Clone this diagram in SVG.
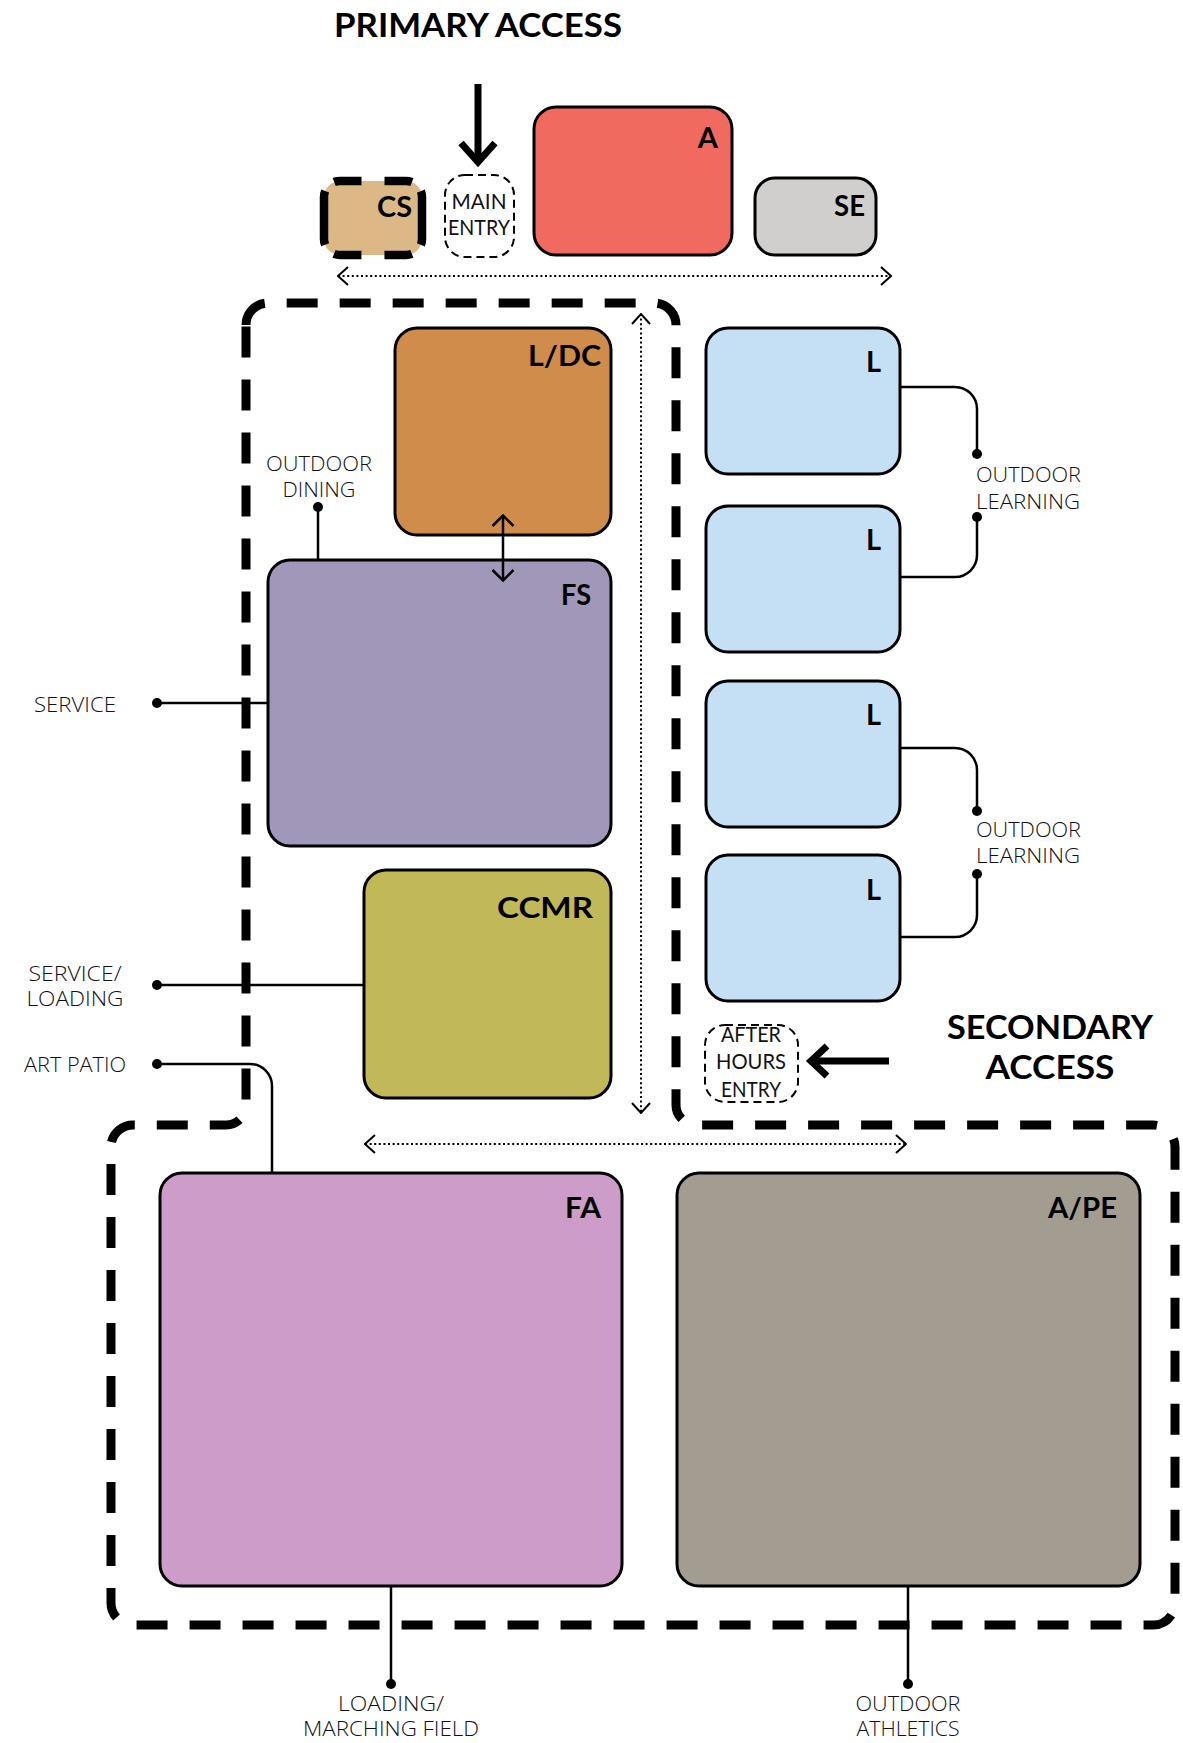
<svg xmlns="http://www.w3.org/2000/svg" width="1183" height="1743" viewBox="0 0 1183 1743">
<defs>
<style>
.box{stroke:#000;stroke-width:3}
.lbl{font-family:Lato,"Liberation Sans",sans-serif;font-weight:700;font-size:29px;fill:#000;text-anchor:end}
.head{font-family:Lato,"Liberation Sans",sans-serif;font-weight:700;font-size:31.5px;fill:#000;text-anchor:middle}
.sm{font-family:"Open Sans","Liberation Sans",sans-serif;font-weight:300;font-size:20px;fill:#111;text-anchor:middle}
.smL{font-family:"Open Sans","Liberation Sans",sans-serif;font-weight:300;font-size:20px;fill:#111;text-anchor:start}
.ent{font-family:Lato,"Liberation Sans",sans-serif;font-weight:400;font-size:21px;fill:#111;text-anchor:middle}
.ln{fill:none;stroke:#000;stroke-width:2.5}
.dot{fill:#000}
.dotted{fill:none;stroke:#000;stroke-width:2;stroke-dasharray:2 2.6}
.thick{fill:none;stroke:#000;stroke-width:7}
.thin-dash{fill:#fff;stroke:#000;stroke-width:2;stroke-dasharray:8 5}
</style>
<marker id="open" viewBox="0 0 12 20" refX="11" refY="10" markerWidth="12" markerHeight="20" orient="auto-start-reverse" markerUnits="userSpaceOnUse">
<path d="M1,1 L11,10 L1,19" fill="none" stroke="#000" stroke-width="2"/>
</marker>
<marker id="solid" viewBox="0 0 14 24" refX="12.5" refY="12" markerWidth="14" markerHeight="24" orient="auto-start-reverse" markerUnits="userSpaceOnUse">
<path d="M1.5,1.5 L12,12 L1.5,22.5" fill="none" stroke="#000" stroke-width="2.5"/>
</marker>
</defs>
<rect width="1183" height="1743" fill="#fff"/>

<g id="boundary">
<path d="M246,325 A22,22 0 0 1 268,303 H654 A22,22 0 0 1 676,325 V1105 A20,20 0 0 0 696,1125 H1153 A22,22 0 0 1 1175,1147 V1603 A22,22 0 0 1 1153,1625 H133 A22,22 0 0 1 111,1603 V1147 A22,22 0 0 1 133,1125 H226 A20,20 0 0 0 246,1105 Z" fill="none" stroke="#000" stroke-width="9" stroke-dasharray="31 22"/>
</g>

<g id="titles">
<text class="head" x="478" y="36.5" textLength="288" lengthAdjust="spacingAndGlyphs">PRIMARY ACCESS</text>
<text class="head" x="1050" y="1039" textLength="206" lengthAdjust="spacingAndGlyphs">SECONDARY</text>
<text class="head" x="1050" y="1079" textLength="129" lengthAdjust="spacingAndGlyphs">ACCESS</text>
</g>

<g id="node-CS">
<rect x="324" y="181" width="98" height="74" rx="16" fill="#DDB887"/>
<rect x="324" y="181" width="98" height="74" rx="16" fill="none" stroke="#000" stroke-width="8.5" stroke-dasharray="21.5 23 27.5 13 54 13 27.5 23 27.5 13 54 13 6"/>
<text class="lbl" x="412" y="217" textLength="35" lengthAdjust="spacingAndGlyphs">CS</text>
</g>
<g id="node-main-entry">
<rect class="thin-dash" x="445" y="175" width="69" height="82" rx="20"/>
<text class="ent" x="479" y="209" textLength="55" lengthAdjust="spacingAndGlyphs">MAIN</text>
<text class="ent" x="479" y="235" textLength="62" lengthAdjust="spacingAndGlyphs">ENTRY</text>
</g>
<g id="node-A">
<rect class="box" x="534" y="107" width="198" height="148" rx="22" fill="#F16A60"/>
<text class="lbl" x="718" y="148">A</text>
</g>
<g id="node-SE">
<rect class="box" x="755" y="178" width="121" height="77" rx="20" fill="#D0CFCD"/>
<text class="lbl" x="865" y="216" textLength="31" lengthAdjust="spacingAndGlyphs">SE</text>
</g>
<g id="node-LDC">
<rect class="box" x="395" y="328" width="216" height="207" rx="22" fill="#D08C4A"/>
<text class="lbl" x="601" y="366" textLength="73" lengthAdjust="spacingAndGlyphs">L/DC</text>
</g>
<g id="node-FS">
<rect class="box" x="268" y="560" width="343" height="286" rx="22" fill="#A097B9"/>
<text class="lbl" x="591" y="605" textLength="30" lengthAdjust="spacingAndGlyphs">FS</text>
</g>
<g id="node-CCMR">
<rect class="box" x="364" y="870" width="247" height="228" rx="22" fill="#C1B857"/>
<text class="lbl" x="593" y="918" textLength="96" lengthAdjust="spacingAndGlyphs">CCMR</text>
</g>
<g id="node-L1">
<rect class="box" x="706" y="328" width="194" height="146" rx="22" fill="#C5E0F5"/>
<text class="lbl" x="881" y="372">L</text>
</g>
<g id="node-L2">
<rect class="box" x="706" y="506" width="194" height="146" rx="22" fill="#C5E0F5"/>
<text class="lbl" x="881" y="550">L</text>
</g>
<g id="node-L3">
<rect class="box" x="706" y="681" width="194" height="146" rx="22" fill="#C5E0F5"/>
<text class="lbl" x="881" y="725">L</text>
</g>
<g id="node-L4">
<rect class="box" x="706" y="855" width="194" height="146" rx="22" fill="#C5E0F5"/>
<text class="lbl" x="881" y="900">L</text>
</g>
<g id="node-after-hours">
<rect class="thin-dash" x="705" y="1025" width="93" height="77" rx="20"/>
<text class="ent" x="751" y="1042" textLength="60" lengthAdjust="spacingAndGlyphs">AFTER</text>
<text class="ent" x="751" y="1069" textLength="70" lengthAdjust="spacingAndGlyphs">HOURS</text>
<text class="ent" x="751" y="1097" textLength="60" lengthAdjust="spacingAndGlyphs">ENTRY</text>
</g>
<g id="node-FA">
<rect class="box" x="160" y="1173" width="462" height="413" rx="22" fill="#CD9CC8"/>
<text class="lbl" x="601" y="1218" textLength="36" lengthAdjust="spacingAndGlyphs">FA</text>
</g>
<g id="node-APE">
<rect class="box" x="677" y="1173" width="463" height="413" rx="22" fill="#A39C90"/>
<text class="lbl" x="1117" y="1218" textLength="69" lengthAdjust="spacingAndGlyphs">A/PE</text>
</g>

<g id="connectors">
<line class="thick" x1="478" y1="84" x2="478" y2="160"/>
<path class="thick" d="M461,143 L478,162 L495,143"/>
<line class="thick" x1="889" y1="1061" x2="814" y2="1061"/>
<path class="thick" d="M827,1046 L811,1061 L827,1076"/>
<line class="dotted" x1="338" y1="276" x2="891" y2="276" marker-start="url(#open)" marker-end="url(#open)"/>
<line class="dotted" x1="641" y1="314" x2="641" y2="1113" marker-start="url(#open)" marker-end="url(#open)"/>
<line class="dotted" x1="365" y1="1144" x2="906" y2="1144" marker-start="url(#open)" marker-end="url(#open)"/>
<line class="ln" x1="503" y1="515" x2="503" y2="581" marker-start="url(#solid)" marker-end="url(#solid)"/>
<path class="ln" d="M318,507 V560"/>
<path class="ln" d="M157,703 H268"/>
<path class="ln" d="M157,985 H364"/>
<path class="ln" d="M157,1064 H250 A22,22 0 0 1 272,1086 V1173"/>
<path class="ln" d="M900,387 H955 A22,22 0 0 1 977,409 V454"/>
<path class="ln" d="M977,517 V555 A22,22 0 0 1 955,577 H900"/>
<path class="ln" d="M900,748 H955 A22,22 0 0 1 977,770 V811"/>
<path class="ln" d="M977,874 V915 A22,22 0 0 1 955,937 H900"/>
<path class="ln" d="M391,1587 V1684"/>
<path class="ln" d="M908,1587 V1684"/>
<circle class="dot" cx="318" cy="507" r="5"/>
<circle class="dot" cx="157" cy="703" r="5"/>
<circle class="dot" cx="157" cy="985" r="5"/>
<circle class="dot" cx="157" cy="1064" r="5"/>
<circle class="dot" cx="977" cy="454" r="5"/>
<circle class="dot" cx="977" cy="517" r="5"/>
<circle class="dot" cx="977" cy="811" r="5"/>
<circle class="dot" cx="977" cy="874" r="5"/>
<circle class="dot" cx="391" cy="1684" r="5"/>
<circle class="dot" cx="908" cy="1684" r="5"/>
</g>

<g id="labels">
<text class="sm" x="319" y="471" textLength="106" lengthAdjust="spacingAndGlyphs">OUTDOOR</text>
<text class="sm" x="319" y="497" textLength="73" lengthAdjust="spacingAndGlyphs">DINING</text>
<text class="sm" x="75" y="712" textLength="82" lengthAdjust="spacingAndGlyphs">SERVICE</text>
<text class="sm" x="75" y="981" textLength="93" lengthAdjust="spacingAndGlyphs">SERVICE/</text>
<text class="sm" x="75" y="1006" textLength="97" lengthAdjust="spacingAndGlyphs">LOADING</text>
<text class="sm" x="75" y="1072" textLength="102" lengthAdjust="spacingAndGlyphs">ART PATIO</text>
<text class="smL" x="976" y="482" textLength="105" lengthAdjust="spacingAndGlyphs">OUTDOOR</text>
<text class="smL" x="976" y="509" textLength="104" lengthAdjust="spacingAndGlyphs">LEARNING</text>
<text class="smL" x="976" y="837" textLength="105" lengthAdjust="spacingAndGlyphs">OUTDOOR</text>
<text class="smL" x="976" y="863" textLength="104" lengthAdjust="spacingAndGlyphs">LEARNING</text>
<text class="sm" x="391" y="1711" font-size="21" textLength="106" lengthAdjust="spacingAndGlyphs">LOADING/</text>
<text class="sm" x="391" y="1736" font-size="21" textLength="176" lengthAdjust="spacingAndGlyphs">MARCHING FIELD</text>
<text class="sm" x="908" y="1711" font-size="21" textLength="105" lengthAdjust="spacingAndGlyphs">OUTDOOR</text>
<text class="sm" x="908" y="1736" font-size="21" textLength="103" lengthAdjust="spacingAndGlyphs">ATHLETICS</text>
</g>
</svg>
